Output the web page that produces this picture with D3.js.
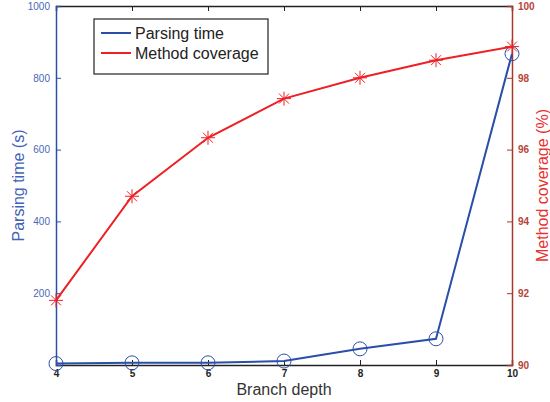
<!DOCTYPE html>
<html>
<head>
<meta charset="utf-8">
<script src="https://cdn.jsdelivr.net/npm/d3@7"></script>
<style>
  body { margin: 0; background: #fff; }
  svg { font-family: "Liberation Sans", Arial, sans-serif; }
</style>
</head>
<body>
<div id="chart"></div>
<script>
// data
const depths = [4, 5, 6, 7, 8, 9, 10];
const parsingTime = [4, 6, 6, 11, 45, 73, 867];
const methodCoverage = [91.8, 94.7, 96.33, 97.42, 98.0, 98.49, 98.87];
const leftTicks = [200, 400, 600, 800, 1000];
const rightTicks = [90, 92, 94, 96, 98, 100];

const W = 550, H = 402;
const margin = { top: 6, right: 38, bottom: 37, left: 56 };
const width = W - margin.left - margin.right,
  height = H - margin.top - margin.bottom;

const blue = "#2a4fa8", red = "#ee2026";
const blueAxis = "#2c4fa6", blueText = "#4a68b5";
const redAxis = "#a8382f", redText = "#b5453a";

const svg = d3.select("#chart").append("svg")
  .attr("width", W).attr("height", H)
  .append("g")
  .attr("transform", "translate(" + margin.left + "," + margin.top + ")");

const x = d3.scaleLinear().domain([4, 10]).range([0, width]);
const yL = d3.scaleLinear().domain([0, 1000]).range([height, 0]);
const yR = d3.scaleLinear().domain([90, 100]).range([height, 0]);

// top border with inward ticks
const topAxis = svg.append("g")
  .call(d3.axisTop(x).tickValues(depths).tickSize(-5).tickFormat(""));
topAxis.select(".domain").attr("stroke", "#222").attr("stroke-width", 1.5);
topAxis.selectAll(".tick line").attr("stroke", "#222");

// bottom axis
const bottomAxis = svg.append("g")
  .attr("transform", "translate(0," + height + ")")
  .call(d3.axisBottom(x).tickValues(depths).tickSize(-5).tickPadding(5).tickFormat(d3.format("d")));
bottomAxis.select(".domain").attr("stroke", "#222").attr("stroke-width", 1.5);
bottomAxis.selectAll(".tick line").attr("stroke", "#222");
bottomAxis.selectAll("text")
  .attr("fill", "#222").style("font-size", "10px").style("font-weight", "bold")
  .attr("font-family", "Liberation Sans, Arial, sans-serif");

// left axis
const leftAxis = svg.append("g")
  .call(d3.axisLeft(yL).tickValues(leftTicks).tickSize(-5).tickPadding(6).tickFormat(d3.format("d")));
leftAxis.select(".domain").attr("stroke", blueAxis).attr("stroke-width", 1.5);
leftAxis.selectAll(".tick line").attr("stroke", blueAxis);
leftAxis.selectAll("text")
  .attr("fill", blueText).style("font-size", "10px")
  .attr("font-family", "Liberation Sans, Arial, sans-serif");

// right axis
const rightAxis = svg.append("g")
  .attr("transform", "translate(" + width + ",0)")
  .call(d3.axisRight(yR).tickValues(rightTicks).tickSize(-5).tickPadding(6));
rightAxis.select(".domain").attr("stroke", redAxis).attr("stroke-width", 1.5);
rightAxis.selectAll(".tick line").attr("stroke", redAxis);
rightAxis.selectAll("text")
  .attr("fill", redText).style("font-size", "10px").style("font-weight", "bold")
  .attr("font-family", "Liberation Sans, Arial, sans-serif");

// axis titles
svg.append("text")
  .attr("x", width / 2).attr("y", height + 30)
  .attr("text-anchor", "middle")
  .attr("fill", "#333")
  .style("font-size", "16px")
  .text("Branch depth");

svg.append("text")
  .attr("transform", "rotate(-90)")
  .attr("x", -height / 2).attr("y", -32)
  .attr("text-anchor", "middle")
  .attr("fill", "#3f63b8")
  .style("font-size", "16px")
  .text("Parsing time (s)");

svg.append("text")
  .attr("transform", "rotate(-90)")
  .attr("x", -height / 2).attr("y", width + 36)
  .attr("text-anchor", "middle")
  .attr("fill", "#e8322f")
  .style("font-size", "16px")
  .text("Method coverage (%)");

// parsing time line
const lineL = d3.line().x((d, i) => x(depths[i])).y((d) => yL(d));
svg.append("path")
  .datum(parsingTime)
  .attr("fill", "none")
  .attr("stroke", blue)
  .attr("stroke-width", 2)
  .attr("d", lineL);

svg.selectAll(".circ")
  .data(parsingTime)
  .enter()
  .append("circle")
  .attr("class", "circ")
  .attr("cx", (d, i) => x(depths[i]))
  .attr("cy", (d) => yL(d))
  .attr("r", 7)
  .attr("fill", "none")
  .attr("stroke", blue)
  .attr("stroke-width", 1);

// method coverage line
const lineR = d3.line().x((d, i) => x(depths[i])).y((d) => yR(d));
svg.append("path")
  .datum(methodCoverage)
  .attr("fill", "none")
  .attr("stroke", red)
  .attr("stroke-width", 2)
  .attr("d", lineR);

const star = "M-7,0L7,0M0,-7L0,7M-5,-5L5,5M-5,5L5,-5";
svg.selectAll(".star")
  .data(methodCoverage)
  .enter()
  .append("path")
  .attr("class", "star")
  .attr("transform", (d, i) => "translate(" + x(depths[i]) + "," + yR(d) + ")")
  .attr("d", star)
  .attr("fill", "none")
  .attr("stroke", red)
  .attr("stroke-width", 1);

// legend
const legend = svg.append("g").attr("transform", "translate(38,13)");
legend.append("rect")
  .attr("width", 174).attr("height", 55)
  .attr("fill", "#fff").attr("stroke", "#222").attr("stroke-width", 1.2);
const items = [["Parsing time", blue], ["Method coverage", red]];
items.forEach(([name, col], i) => {
  legend.append("line")
    .attr("x1", 7).attr("x2", 37)
    .attr("y1", 14 + i * 20).attr("y2", 14 + i * 20)
    .attr("stroke", col).attr("stroke-width", 2);
  legend.append("text")
    .attr("x", 41).attr("y", 14 + i * 20)
    .attr("dy", "0.35em")
    .attr("fill", "#222")
    .style("font-size", "16px")
    .text(name);
});
</script>
</body>
</html>
